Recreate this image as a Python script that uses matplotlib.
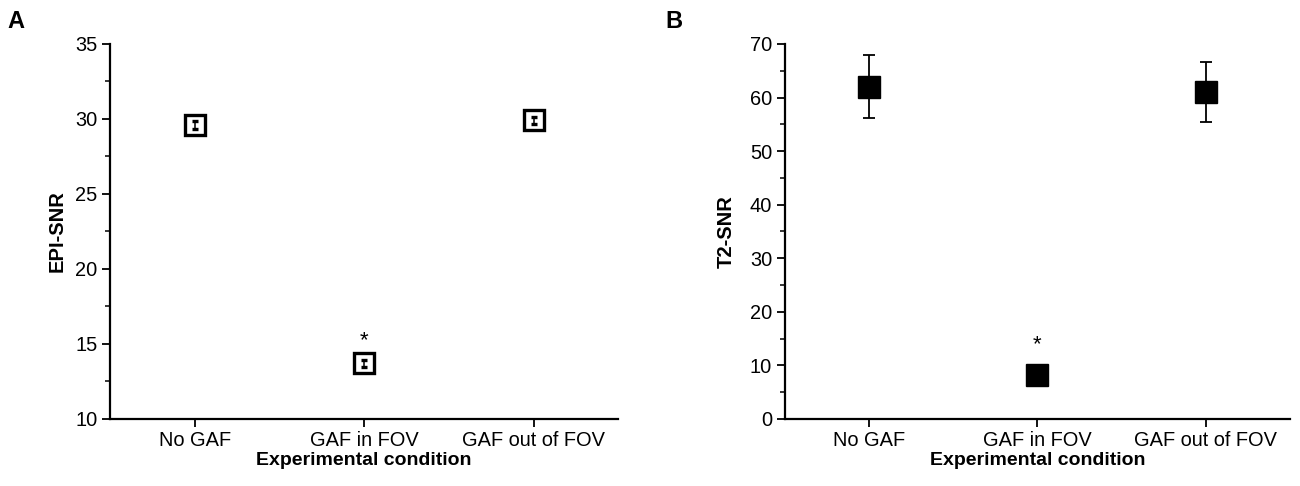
import numpy as np
import matplotlib
matplotlib.use("Agg")
import matplotlib.pyplot as plt
from matplotlib.ticker import MultipleLocator

plt.rcParams['font.family'] = ['Liberation Sans', 'DejaVu Sans']

conditions = ["No GAF", "GAF in FOV", "GAF out of FOV"]

# panel A: EPI-SNR
epi_mean = [29.6, 13.7, 29.9]
epi_err = [0.25, 0.25, 0.25]

# panel B: T2-SNR
t2_mean = [62.0, 8.2, 61.0]
t2_err = [5.9, 0.8, 5.6]

star_idx = 1

fig = plt.figure(figsize=(13, 4.86), dpi=100)
axA = fig.add_axes([0.0846, 0.138, 0.391, 0.7715])
axB = fig.add_axes([0.6035, 0.138, 0.389, 0.7715])

x = np.arange(1, len(conditions) + 1)


def style_axis(ax, ylabel, ylim, major, minor, ypad):
    ax.set_xlim(0.5, 3.5)
    ax.set_ylim(*ylim)
    ax.set_xticks(x)
    ax.set_xticklabels(conditions, fontsize=14.4)
    ax.yaxis.set_major_locator(MultipleLocator(major))
    ax.yaxis.set_minor_locator(MultipleLocator(minor))
    for s in ['top', 'right']:
        ax.spines[s].set_visible(False)
    for s in ['left', 'bottom']:
        ax.spines[s].set_linewidth(1.6)
    ax.tick_params(axis='both', which='major', direction='out', length=6,
                   width=1.3, labelsize=14.4, pad=3)
    ax.tick_params(axis='y', which='minor', direction='out', length=3.5,
                   width=1.1)
    ax.set_xlabel("Experimental condition", fontsize=14, fontweight='bold',
                  labelpad=1)
    ax.set_ylabel(ylabel, fontsize=14.5, fontweight='bold', labelpad=ypad)


# A
axA.errorbar(x, epi_mean, yerr=epi_err, fmt='s', ms=15, mfc='none',
             mec='black', mew=2.4, ecolor='black', elinewidth=1.1,
             capsize=2.5, capthick=1.1, color='black', clip_on=False)
axA.text(x[star_idx], epi_mean[star_idx] + 1.55, "*", ha='center',
         va='center', fontsize=16)
style_axis(axA, "EPI-SNR", (10, 35), 5, 2.5, 6)

# B
axB.errorbar(x, t2_mean, yerr=t2_err, fmt='s', ms=16, mfc='black',
             mec='black', ecolor='black', elinewidth=1.3, capsize=4,
             capthick=1.3, color='black', clip_on=False)
axB.text(x[star_idx], t2_mean[star_idx] + 5.6, "*", ha='center',
         va='center', fontsize=16)
style_axis(axB, "T2-SNR", (0, 70), 10, 5, 10)

fig.text(0.006, 0.955, "A", fontsize=17, fontweight='bold', va='center')
fig.text(0.512, 0.955, "B", fontsize=17, fontweight='bold', va='center')

fig.savefig("out.png", dpi=100)
